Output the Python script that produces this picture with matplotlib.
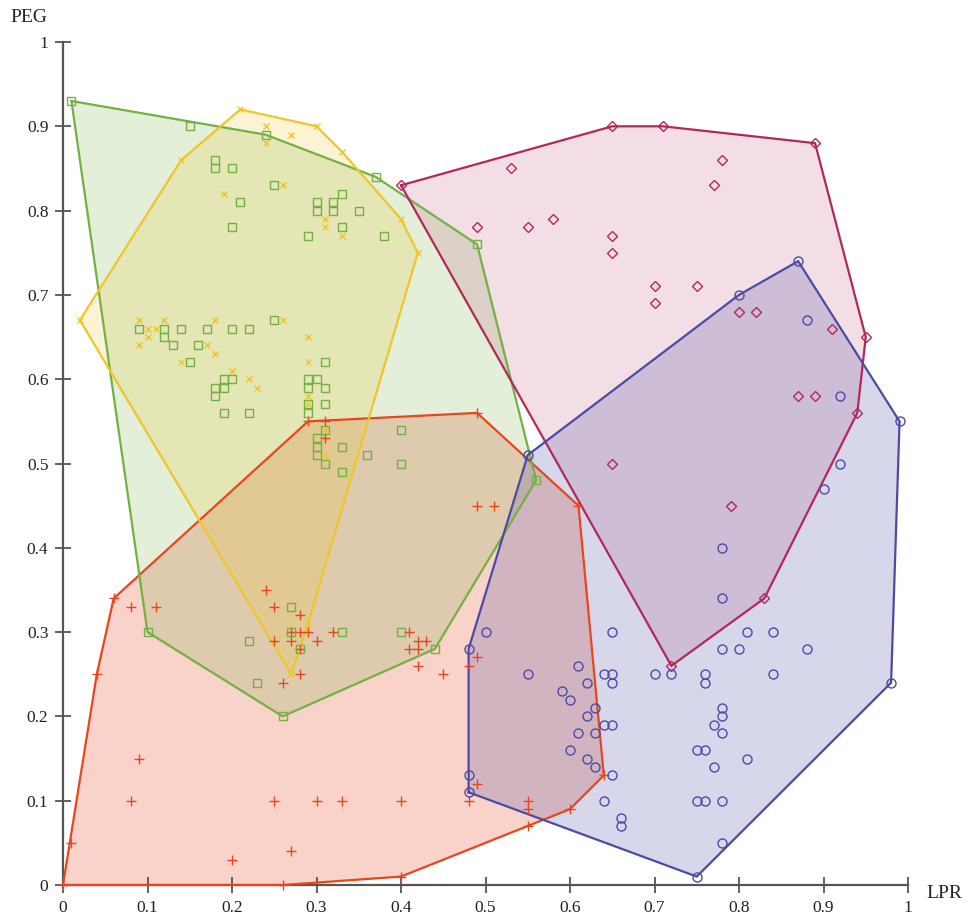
import matplotlib
matplotlib.use("Agg")
import matplotlib.pyplot as plt
from matplotlib.ticker import FuncFormatter
import numpy as np

# ---- data: (LPR, PEG) pairs per group ----
red_x = [0.00, 0.01, 0.04, 0.06, 0.08, 0.11, 0.09, 0.08, 0.20, 0.26, 0.27, 0.25, 0.30, 0.33,
         0.40, 0.40, 0.24, 0.25, 0.28, 0.27, 0.28, 0.29, 0.32, 0.25, 0.27, 0.30, 0.28, 0.28,
         0.26, 0.41, 0.42, 0.43, 0.41, 0.42, 0.42, 0.45, 0.48, 0.49, 0.49, 0.48, 0.55, 0.55,
         0.55, 0.60, 0.64, 0.61, 0.49, 0.51, 0.49, 0.29, 0.31, 0.31]
red_y = [0.00, 0.05, 0.25, 0.34, 0.33, 0.33, 0.15, 0.10, 0.03, 0.00, 0.04, 0.10, 0.10, 0.10,
         0.10, 0.01, 0.35, 0.33, 0.32, 0.30, 0.30, 0.30, 0.30, 0.29, 0.29, 0.29, 0.28, 0.25,
         0.24, 0.30, 0.29, 0.29, 0.28, 0.28, 0.26, 0.25, 0.26, 0.27, 0.12, 0.10, 0.10, 0.09,
         0.07, 0.09, 0.13, 0.45, 0.45, 0.45, 0.56, 0.55, 0.55, 0.53]

green_x = [0.01, 0.15, 0.24, 0.18, 0.18, 0.20, 0.25, 0.21, 0.20, 0.30, 0.30, 0.29, 0.37, 0.33,
           0.32, 0.32, 0.35, 0.33, 0.38, 0.49,
           0.09, 0.12, 0.12, 0.14, 0.17, 0.20, 0.22, 0.25, 0.13, 0.16, 0.15, 0.19, 0.20, 0.18,
           0.19, 0.18, 0.19, 0.22,
           0.29, 0.30, 0.29, 0.31, 0.31, 0.29, 0.31, 0.29, 0.31, 0.30, 0.30, 0.33, 0.30, 0.31,
           0.33, 0.40, 0.36, 0.40, 0.56,
           0.27, 0.27, 0.22, 0.28, 0.23, 0.33, 0.40, 0.44, 0.10, 0.26]
green_y = [0.93, 0.90, 0.89, 0.86, 0.85, 0.85, 0.83, 0.81, 0.78, 0.81, 0.80, 0.77, 0.84, 0.82,
           0.81, 0.80, 0.80, 0.78, 0.77, 0.76,
           0.66, 0.66, 0.65, 0.66, 0.66, 0.66, 0.66, 0.67, 0.64, 0.64, 0.62, 0.60, 0.60, 0.59,
           0.59, 0.58, 0.56, 0.56,
           0.60, 0.60, 0.59, 0.62, 0.59, 0.57, 0.57, 0.56, 0.54, 0.53, 0.52, 0.52, 0.51, 0.50,
           0.49, 0.54, 0.51, 0.50, 0.48,
           0.33, 0.30, 0.29, 0.28, 0.24, 0.30, 0.30, 0.28, 0.30, 0.20]

yellow_x = [0.02, 0.14, 0.21, 0.30, 0.24, 0.24, 0.27, 0.19, 0.26, 0.31, 0.31, 0.33, 0.33, 0.40,
            0.42, 0.09, 0.12, 0.10, 0.11, 0.10, 0.09, 0.18, 0.26, 0.17, 0.18, 0.14, 0.20, 0.22,
            0.23, 0.29, 0.29, 0.29, 0.29, 0.31, 0.31, 0.29, 0.27]
yellow_y = [0.67, 0.86, 0.92, 0.90, 0.90, 0.88, 0.89, 0.82, 0.83, 0.79, 0.78, 0.87, 0.77, 0.79,
            0.75, 0.67, 0.67, 0.66, 0.66, 0.65, 0.64, 0.67, 0.67, 0.64, 0.63, 0.62, 0.61, 0.60,
            0.59, 0.65, 0.62, 0.58, 0.57, 0.54, 0.51, 0.31, 0.25]

magenta_x = [0.40, 0.53, 0.49, 0.55, 0.58, 0.65, 0.65, 0.65, 0.71, 0.89, 0.78, 0.77, 0.70,
             0.70, 0.75, 0.80, 0.82, 0.91, 0.95, 0.87, 0.89, 0.94, 0.79, 0.83, 0.72, 0.65]
magenta_y = [0.83, 0.85, 0.78, 0.78, 0.79, 0.77, 0.75, 0.90, 0.90, 0.88, 0.86, 0.83, 0.71,
             0.69, 0.71, 0.68, 0.68, 0.66, 0.65, 0.58, 0.58, 0.56, 0.45, 0.34, 0.26, 0.50]

blue_x = [0.87, 0.80, 0.88, 0.92, 0.99, 0.92, 0.90, 0.78, 0.78, 0.55, 0.50, 0.48, 0.65, 0.55,
          0.61, 0.64, 0.65, 0.65, 0.62, 0.59, 0.60, 0.63, 0.62, 0.64, 0.65, 0.61, 0.63, 0.60,
          0.62, 0.63, 0.65, 0.48, 0.48, 0.64, 0.66, 0.66, 0.70, 0.72, 0.81, 0.84, 0.78, 0.80,
          0.88, 0.76, 0.76, 0.84, 0.78, 0.78, 0.77, 0.78, 0.75, 0.76, 0.81, 0.77, 0.75, 0.76,
          0.78, 0.78, 0.75, 0.98]
blue_y = [0.74, 0.70, 0.67, 0.58, 0.55, 0.50, 0.47, 0.40, 0.34, 0.51, 0.30, 0.28, 0.30, 0.25,
          0.26, 0.25, 0.25, 0.24, 0.24, 0.23, 0.22, 0.21, 0.20, 0.19, 0.19, 0.18, 0.18, 0.16,
          0.15, 0.14, 0.13, 0.13, 0.11, 0.10, 0.08, 0.07, 0.25, 0.25, 0.30, 0.30, 0.28, 0.28,
          0.28, 0.25, 0.24, 0.25, 0.21, 0.20, 0.19, 0.18, 0.16, 0.16, 0.15, 0.14, 0.10, 0.10,
          0.10, 0.05, 0.01, 0.24]

ticks = [0, 0.1, 0.2, 0.3, 0.4, 0.5, 0.6, 0.7, 0.8, 0.9, 1]

groups = [
    # x, y, line colour, fill alpha, marker, marker size, hollow
    (red_x, red_y, "#e8461f", 0.24, "+", 7, False),
    (green_x, green_y, "#74b043", 0.20, "s", 6, True),
    (yellow_x, yellow_y, "#efc52a", 0.20, "x", 5, False),
    (magenta_x, magenta_y, "#b2285b", 0.15, "D", 5, True),
    (blue_x, blue_y, "#4b4ba6", 0.22, "o", 6.5, True),
]


def convex_hull(xs, ys):
    pts = sorted(set(zip(xs, ys)))

    def cross(o, a, b):
        return (a[0] - o[0]) * (b[1] - o[1]) - (a[1] - o[1]) * (b[0] - o[0])

    lower, upper = [], []
    for p in pts:
        while len(lower) >= 2 and cross(lower[-2], lower[-1], p) <= 0:
            lower.pop()
        lower.append(p)
    for p in reversed(pts):
        while len(upper) >= 2 and cross(upper[-2], upper[-1], p) <= 0:
            upper.pop()
        upper.append(p)
    hull = lower[:-1] + upper[:-1]
    return np.array(hull)


plt.rcParams["font.family"] = ["Liberation Serif", "DejaVu Serif"]

W, H = 968, 917
fig = plt.figure(figsize=(W / 100, H / 100), dpi=100)
ax = fig.add_axes([63 / W, 32 / H, 845 / W, 843 / H])

# hull fills, then hull outlines, then the points themselves
for xs, ys, col, alpha, mk, ms, hollow in groups:
    hull = convex_hull(xs, ys)
    ax.fill(hull[:, 0], hull[:, 1], color=col, alpha=alpha, lw=0, zorder=1, clip_on=False)

for xs, ys, col, alpha, mk, ms, hollow in groups:
    hull = convex_hull(xs, ys)
    closed = np.vstack([hull, hull[:1]])
    ax.plot(closed[:, 0], closed[:, 1], color=col, lw=1.6, zorder=3,
            solid_joinstyle="miter", clip_on=False)

for xs, ys, col, alpha, mk, ms, hollow in groups:
    ax.plot(xs, ys, linestyle="none", marker=mk, markersize=ms,
            markerfacecolor="none" if hollow else col, markeredgecolor=col,
            markeredgewidth=1.0, zorder=4, clip_on=False)

ax.set_xlim(0, 1)
ax.set_ylim(0, 1)
ax.set_xticks(ticks)
ax.set_yticks(ticks)
fmt = FuncFormatter(lambda v, _: f"{v:g}")
ax.xaxis.set_major_formatter(fmt)
ax.yaxis.set_major_formatter(fmt)

for side in ("top", "right"):
    ax.spines[side].set_visible(False)
for side in ("left", "bottom"):
    ax.spines[side].set_color("#555555")
    ax.spines[side].set_linewidth(1.6)
    ax.spines[side].set_zorder(2)
ax.tick_params(direction="inout", length=11, width=1.3, color="#555555",
               labelsize=12.5, labelcolor="#222222", pad=5)
ax.set_facecolor("white")

fig.text(29 / W, 1 - 18 / H, "PEG", ha="center", va="center", fontsize=14, color="#222222")
fig.text(944 / W, 1 - 893 / H, "LPR", ha="center", va="center", fontsize=14, color="#222222")

fig.savefig("out.png", dpi=100, facecolor="white")
